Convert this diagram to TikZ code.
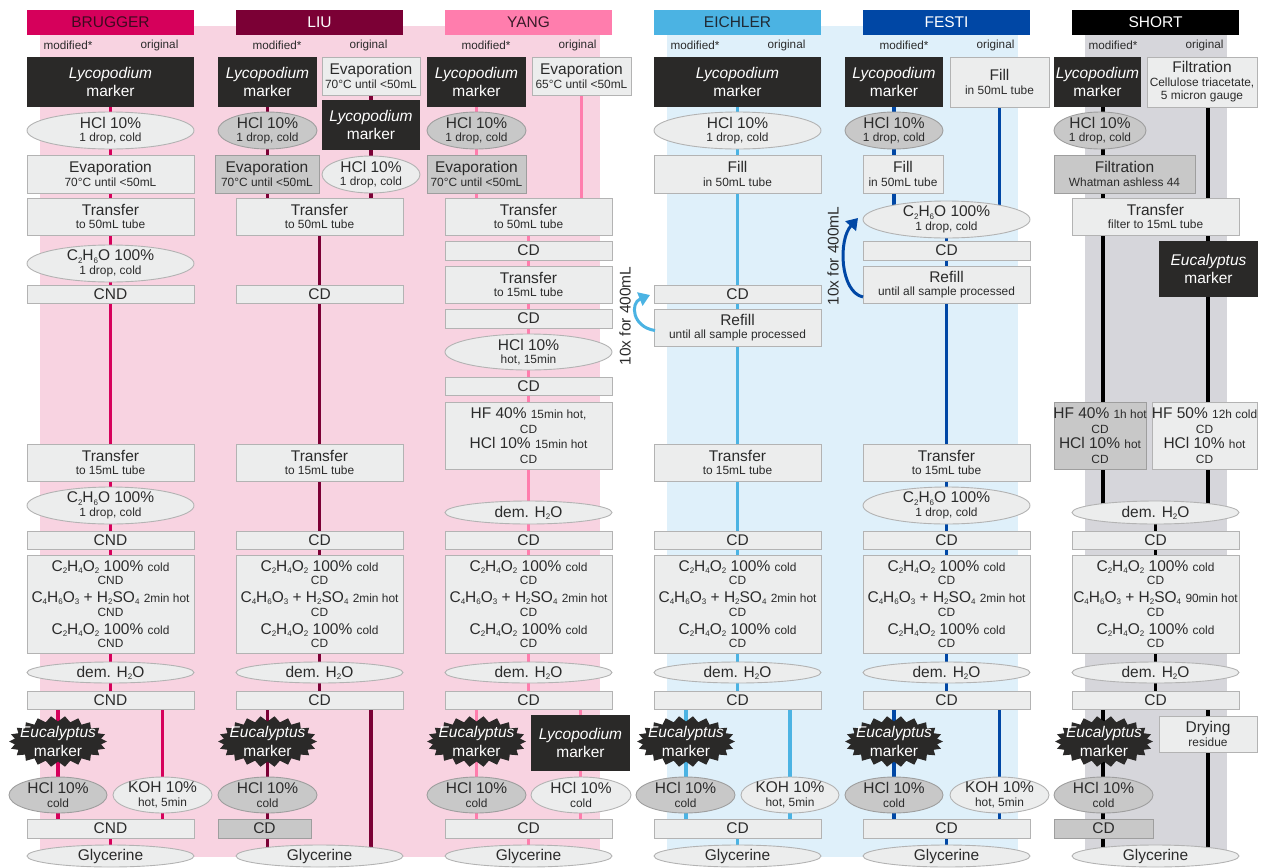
\documentclass[tikz,border=0pt]{standalone}
\usepackage{fontspec}
\setmainfont{Liberation Sans}
\usetikzlibrary{shapes.geometric,arrows.meta,calc}
\definecolor{brc}{HTML}{D6005B}
\definecolor{lic}{HTML}{7B0035}
\definecolor{yac}{HTML}{FF7DAD}
\definecolor{eic}{HTML}{4BB3E3}
\definecolor{fec}{HTML}{0047A5}
\definecolor{shc}{HTML}{000000}
\definecolor{pinkbg}{HTML}{F8D3E1}
\definecolor{bluebg}{HTML}{DFF0FA}
\definecolor{graybg}{HTML}{D6D6DB}
\definecolor{bfill}{HTML}{ECEDED}
\definecolor{bline}{HTML}{B3B3B3}
\definecolor{gfill}{HTML}{C8C8C8}
\definecolor{gline}{HTML}{9E9E9E}
\definecolor{dfill}{HTML}{2A2928}
\definecolor{tcol}{HTML}{2B2B2B}
\definecolor{brt}{HTML}{3E0A1F}
\definecolor{yat}{HTML}{3A1A28}
\definecolor{eit}{HTML}{1F2A35}
\newcommand\fmain{\fontsize{15.5}{13.5}\selectfont}
\newcommand\fsmall{\fontsize{11.9}{13.5}\selectfont}
\newcommand\subs[1]{\raisebox{-2.2pt}{\fontsize{8}{8}\selectfont #1}}
\newcommand\lyco{\textit{Lycopodium}\\[3pt]marker}
\newcommand\euca{\textit{Eucalyptus}\\[3pt]marker}
\newcommand\ethanol{C\subs2H\subs6O 100\%\\{\fsmall 1 drop, cold}}
\newcommand\hcldrop{HCl 10\%\\{\fsmall 1 drop, cold}}
\newcommand\hclcold{HCl 10\%\\{\fsmall cold}}
\newcommand\koh{KOH 10\%\\{\fsmall hot, 5min}}
\newcommand\demw{dem. H\subs2O}
\newcommand\acet[2]{C\subs2H\subs4O\subs2 100\% {\fsmall cold}\\{\fsmall #1}\\[4.5pt]C\subs4H\subs6O\subs3 + H\subs2SO\subs4 {\fsmall #2}\\{\fsmall #1}\\[4.5pt]C\subs2H\subs4O\subs2 100\% {\fsmall cold}\\{\fsmall #1}}
\newcommand\bx[7]{%
  \node[#2, minimum width={#5pt-#3pt}, minimum height={#6pt-#4pt}] (#1) at ({(#3+#5)/2},{(#4+#6)/2}) {};
  \node[txt, #2-t] (#1-t) at (#1) {#7};}
% star-burst marker: name, x1, y1, x2, y2
\newcommand\burst[5]{%
  \node[ellipse, minimum width={#4pt-#2pt}, minimum height={#5pt-#3pt}] (#1) at ({(#2+#4)/2},{(#3+#5)/2}) {};
  \fill[dfill, shift={(#1.center)}] plot[domain=0:43, samples=44, variable=\k]
     ({((#4-#2)/2-5.5*mod(\k,2))*cos(\k*360/44)},{((#5-#3)/2-5.5*mod(\k,2))*sin(\k*360/44)}) -- cycle;
  \node[txt, text=white] (#1-t) at (#1) {\euca};}
\newcommand\hd[5]{%
  \node[rectangle, fill=#3, minimum width=167pt, minimum height=25pt, inner sep=0] (#1) at (#2,22.5) {};
  \node[txt, text=#4] (#1-t) at (#1) {#5};}
\pgfdeclarelayer{bg}
\pgfdeclarelayer{ln}
\pgfsetlayers{bg,ln,main}
\tikzset{
  every node/.style={inner sep=0pt, outer sep=0pt},
  txt/.style={align=center, font=\fmain, text=tcol},
  lab/.style={font=\fontsize{11.7}{12}\selectfont, text=tcol},
  box/.style={rectangle, draw=bline, fill=bfill, line width=0.9pt},
  box-t/.style={},
  gbox/.style={rectangle, draw=gline, fill=gfill, line width=0.9pt},
  gbox-t/.style={},
  dbox/.style={rectangle, fill=dfill},
  dbox-t/.style={text=white},
  ell/.style={ellipse, draw=bline, fill=bfill, line width=0.9pt},
  ell-t/.style={},
  gell/.style={ellipse, draw=gline, fill=gfill, line width=0.9pt},
  gell-t/.style={},
  cl/.style={line width=3.2pt, draw=#1},
  loopar/.style={line width=3pt, draw=#1, -{Triangle[length=11pt,width=14pt]}},
}
\begin{document}
\begin{tikzpicture}[x=1pt,y=-1pt]
\useasboundingbox (0,0) rectangle (1262,868);
\begin{pgfonlayer}{bg}
  \fill[pinkbg] (40,26) rectangle (600,857);
  \fill[bluebg] (667,26) rectangle (1018,857);
  \fill[graybg] (1085,26) rectangle (1227,850);
\end{pgfonlayer}
% ---------------- BRUGGER
\hd{br-h}{110.5}{brc}{brt}{BRUGGER}
\node[lab] (br-lm) at (68,45) {modified*};
\node[lab] (br-lo) at (159.5,45) {original};
\bx{br1}{dbox}{27}{57}{194}{107}{\lyco}
\bx{br2}{ell}{27}{112}{194}{149}{\hcldrop}
\bx{br3}{box}{27}{155}{194}{193}{Evaporation\\{\fsmall 70°C until <50mL}}
\bx{br4}{box}{27}{198}{194}{235}{Transfer\\{\fsmall to 50mL tube}}
\bx{br5}{ell}{27}{245}{194}{282}{\ethanol}
\bx{br6}{box}{27}{285}{194}{303}{CND}
\bx{br7}{box}{27}{444}{194}{481}{Transfer\\{\fsmall to 15mL tube}}
\bx{br8}{ell}{27}{487}{194}{524}{\ethanol}
\bx{br9}{box}{27}{531}{194}{549}{CND}
\bx{br10}{box}{27}{555}{194}{653}{\acet{CND}{2min hot}}
\bx{br11}{ell}{27}{662}{194}{683}{\demw}
\bx{br12}{box}{27}{691}{194}{709}{CND}
\burst{br13}{9}{716}{107}{767}
\bx{br14}{gell}{9}{777}{107}{813}{\hclcold}
\bx{br15}{ell}{113}{777}{212}{813}{\koh}
\bx{br16}{box}{27}{819}{194}{838}{CND}
\bx{br17}{ell}{27}{845}{194}{867}{Glycerine}
\begin{pgfonlayer}{ln}
  \draw[cl=brc] (br1) -- (br12);
  \draw[cl=brc] (br13 |- br12) -- (br13 |- br16);
  \draw[cl=brc] (br15 |- br12) -- (br15 |- br16);
  \draw[cl=brc] (br16) -- (br17);
\end{pgfonlayer}
% ---------------- LIU
\hd{li-h}{319.5}{lic}{white}{LIU}
\node[lab] (li-lm) at (277,45) {modified*};
\node[lab] (li-lo) at (368.5,45) {original};
\bx{li1}{dbox}{218}{57}{317}{107}{\lyco}
\bx{li3}{box}{322}{57}{420}{95}{Evaporation\\{\fsmall 70°C until <50mL}}
\bx{li2}{dbox}{322}{100}{420}{150}{\lyco}
\bx{li4}{gell}{218}{112}{317}{149}{\hcldrop}
\bx{li5}{gbox}{215}{155}{319}{193}{Evaporation\\{\fsmall 70°C until <50mL}}
\bx{li6}{ell}{322}{156}{420}{193}{\hcldrop}
\bx{li7}{box}{236}{198}{403}{235}{Transfer\\{\fsmall to 50mL tube}}
\bx{li8}{box}{236}{285}{403}{303}{CD}
\bx{li9}{box}{236}{444}{403}{481}{Transfer\\{\fsmall to 15mL tube}}
\bx{li10}{box}{236}{531}{403}{549}{CD}
\bx{li11}{box}{236}{555}{403}{653}{\acet{CD}{2min hot}}
\bx{li12}{ell}{236}{662}{403}{683}{\demw}
\bx{li13}{box}{236}{691}{403}{709}{CD}
\burst{li14}{218}{716}{317}{767}
\bx{li15}{gell}{218}{777}{317}{813}{\hclcold}
\bx{li16}{gbox}{218}{819}{311}{838}{CD}
\bx{li17}{ell}{236}{845}{403}{867}{Glycerine}
\begin{pgfonlayer}{ln}
  \draw[cl=lic] (li1) -- (li1 |- li7);
  \draw[cl=lic] (li3) -- (li3 |- li7);
  \draw[cl=lic] (li7) -- (li13);
  \draw[cl=lic] (li14 |- li13) -- (li14 |- li17);
  \draw[cl=lic] (li2 |- li13) -- (li2 |- li17);
\end{pgfonlayer}
% ---------------- YANG
\hd{ya-h}{528.5}{yac}{yat}{YANG}
\node[lab] (ya-lm) at (486,45) {modified*};
\node[lab] (ya-lo) at (577.5,45) {original};
\bx{ya1}{dbox}{427}{57}{526}{107}{\lyco}
\bx{ya2}{box}{532}{57}{631}{95}{Evaporation\\{\fsmall 65°C until <50mL}}
\bx{ya3}{gell}{427}{112}{526}{149}{\hcldrop}
\bx{ya4}{gbox}{427}{155}{526}{193}{Evaporation\\{\fsmall 70°C until <50mL}}
\bx{ya5}{box}{445}{198}{612}{235}{Transfer\\{\fsmall to 50mL tube}}
\bx{ya6}{box}{445}{241}{612}{260}{CD}
\bx{ya7}{box}{445}{266}{612}{303}{Transfer\\{\fsmall to 15mL tube}}
\bx{ya8}{box}{445}{309}{612}{328}{CD}
\bx{ya9}{ell}{445}{334}{612}{370}{HCl 10\%\\{\fsmall hot, 15min}}
\bx{ya10}{box}{445}{377}{612}{395}{CD}
\bx{ya11}{box}{445}{402}{612}{469}{HF 40\% {\fsmall 15min hot,}\\[1.5pt]{\fsmall CD}\\[2pt]HCl 10\% {\fsmall 15min hot}\\[1pt]{\fsmall CD}}
\bx{ya12}{ell}{445}{501}{612}{524}{\demw}
\bx{ya13}{box}{445}{531}{612}{549}{CD}
\bx{ya14}{box}{445}{555}{612}{653}{\acet{CD}{2min hot}}
\bx{ya15}{ell}{445}{662}{612}{683}{\demw}
\bx{ya16}{box}{445}{691}{612}{709}{CD}
\burst{ya17}{427}{716}{526}{767}
\bx{ya18}{dbox}{531}{715}{630}{771}{\lyco}
\bx{ya19}{gell}{427}{777}{526}{813}{\hclcold}
\bx{ya20}{ell}{531}{777}{631}{813}{\hclcold}
\bx{ya21}{box}{445}{819}{612}{838}{CD}
\bx{ya22}{ell}{445}{845}{612}{867}{Glycerine}
\begin{pgfonlayer}{ln}
  \draw[cl=yac] (ya1) -- (ya1 |- ya5);
  \draw[cl=yac] (ya2) -- (ya2 |- ya5);
  \draw[cl=yac] (ya5) -- (ya16);
  \draw[cl=yac] (ya17 |- ya16) -- (ya17 |- ya21);
  \draw[cl=yac] (ya18 |- ya16) -- (ya18 |- ya21);
  \draw[cl=yac] (ya21) -- (ya22);
\end{pgfonlayer}
% ---------------- EICHLER
\hd{ei-h}{737.5}{eic}{eit}{EICHLER}
\node[lab] (ei-lm) at (695,45) {modified*};
\node[lab] (ei-lo) at (786.5,45) {original};
\bx{ei1}{dbox}{654}{57}{821}{107}{\lyco}
\bx{ei2}{ell}{654}{112}{821}{149}{\hcldrop}
\bx{ei3}{box}{654}{155}{821}{193}{Fill\\{\fsmall in 50mL tube}}
\bx{ei4}{box}{654}{285}{821}{303}{CD}
\bx{ei5}{box}{654}{309}{821}{346}{Refill\\{\fsmall until all sample processed}}
\bx{ei6}{box}{654}{444}{821}{481}{Transfer\\{\fsmall to 15mL tube}}
\bx{ei7}{box}{654}{531}{821}{549}{CD}
\bx{ei8}{box}{654}{555}{821}{653}{\acet{CD}{2min hot}}
\bx{ei9}{ell}{654}{662}{821}{683}{\demw}
\bx{ei10}{box}{654}{691}{821}{709}{CD}
\burst{ei11}{637}{716}{735}{767}
\bx{ei12}{gell}{636}{777}{735}{813}{\hclcold}
\bx{ei13}{ell}{741}{777}{839}{813}{\koh}
\bx{ei14}{box}{654}{819}{821}{838}{CD}
\bx{ei15}{ell}{654}{845}{821}{867}{Glycerine}
\node[txt, rotate=90] (ei-rep) at (625,316) {10x for 400mL};
\coordinate (ei-tip) at ($(ei4.west)+(-4,1)$);
\begin{pgfonlayer}{ln}
  \draw[cl=eic] (ei1) -- (ei10);
  \draw[cl=eic] (ei11 |- ei10) -- (ei11 |- ei14);
  \draw[cl=eic] (ei13 |- ei10) -- (ei13 |- ei14);
  \draw[cl=eic] (ei14) -- (ei15);
\end{pgfonlayer}
\draw[loopar=eic] ($(ei5.west)+(1,3)$) .. controls (632,327) and (630,303) .. (ei-tip);
% ---------------- FESTI
\hd{fe-h}{946.5}{fec}{white}{FESTI}
\node[lab] (fe-lm) at (904,45) {modified*};
\node[lab] (fe-lo) at (995.5,45) {original};
\bx{fe1}{dbox}{845}{57}{943}{107}{\lyco}
\bx{fe2}{box}{950}{57}{1049}{107}{Fill\\{\fsmall in 50mL tube}}
\bx{fe3}{gell}{845}{112}{943}{149}{\hcldrop}
\bx{fe4}{box}{863}{155}{943}{193}{Fill\\{\fsmall in 50mL tube}}
\bx{fe5}{ell}{863}{201}{1030}{238}{\ethanol}
\bx{fe6}{box}{863}{241}{1030}{260}{CD}
\bx{fe7}{box}{863}{266}{1030}{303}{Refill\\{\fsmall until all sample processed}}
\bx{fe8}{box}{863}{444}{1030}{481}{Transfer\\{\fsmall to 15mL tube}}
\bx{fe9}{ell}{863}{487}{1030}{524}{\ethanol}
\bx{fe10}{box}{863}{531}{1030}{549}{CD}
\bx{fe11}{box}{863}{555}{1030}{653}{\acet{CD}{2min hot}}
\bx{fe12}{ell}{863}{662}{1030}{683}{\demw}
\bx{fe13}{box}{863}{691}{1030}{709}{CD}
\burst{fe14}{845}{716}{943}{767}
\bx{fe15}{gell}{845}{777}{943}{813}{\hclcold}
\bx{fe16}{ell}{950}{777}{1049}{813}{\koh}
\bx{fe17}{box}{863}{819}{1030}{838}{CD}
\bx{fe18}{ell}{863}{845}{1030}{867}{Glycerine}
\node[txt, rotate=90] (fe-rep) at (833,256) {10x for 400mL};
\coordinate (fe-tip) at ($(fe5.west)+(-5,-1.5)$);
\begin{pgfonlayer}{ln}
  \draw[cl=fec] (fe1) -- (fe1 |- fe5);
  \draw[cl=fec] (fe2) -- (fe2 |- fe5);
  \draw[cl=fec] (fe5) -- (fe13);
  \draw[cl=fec] (fe14 |- fe13) -- (fe14 |- fe17);
  \draw[cl=fec] (fe16 |- fe13) -- (fe16 |- fe17);
  \draw[cl=fec] (fe17) -- (fe18);
\end{pgfonlayer}
\draw[loopar=fec] ($(fe7.west)+(0,12.5)$) .. controls (840,292) and (838,240) .. (fe-tip);
% ---------------- SHORT
\hd{sh-h}{1155.5}{shc}{white}{SHORT}
\node[lab] (sh-lm) at (1113,45) {modified*};
\node[lab] (sh-lo) at (1204.5,45) {original};
\coordinate (shm) at (1103,0);
\coordinate (sho) at (1208,0);
\bx{sh1}{dbox}{1054}{57}{1141}{107}{\lyco}
\bx{sh2}{box}{1147}{57}{1257}{107}{Filtration\\{\fsmall Cellulose triacetate,}\\{\fsmall 5 micron gauge}}
\bx{sh3}{gell}{1054}{112}{1146}{149}{\hcldrop}
\bx{sh4}{gbox}{1054}{155}{1195}{193}{Filtration\\{\fsmall Whatman ashless 44}}
\bx{sh5}{box}{1072}{198}{1239}{235}{Transfer\\{\fsmall filter to 15mL tube}}
\bx{sh6}{dbox}{1159}{241}{1258}{297}{\euca}
\bx{sh7}{gbox}{1054}{402}{1146}{469}{HF 40\% {\fsmall 1h hot}\\[1.5pt]{\fsmall CD}\\[2pt]HCl 10\% {\fsmall hot}\\[1pt]{\fsmall CD}}
\bx{sh8}{box}{1152}{402}{1257}{469}{HF 50\% {\fsmall 12h cold}\\[1.5pt]{\fsmall CD}\\[2pt]HCl 10\% {\fsmall hot}\\[1pt]{\fsmall CD}}
\bx{sh9}{ell}{1072}{501}{1239}{524}{\demw}
\bx{sh10}{box}{1072}{531}{1239}{549}{CD}
\bx{sh11}{box}{1072}{555}{1239}{653}{\acet{CD}{90min hot}}
\bx{sh12}{ell}{1072}{662}{1239}{683}{\demw}
\bx{sh13}{box}{1072}{691}{1239}{709}{CD}
\burst{sh14}{1055}{716}{1153}{767}
\bx{sh15}{box}{1159}{716}{1257}{752}{Drying\\{\fsmall residue}}
\bx{sh16}{gell}{1054}{777}{1153}{813}{\hclcold}
\bx{sh17}{gbox}{1054}{819}{1153}{838}{CD}
\bx{sh18}{ell}{1072}{845}{1239}{867}{Glycerine}
\begin{pgfonlayer}{ln}
  \draw[cl=shc] (sh1 -| shm) -- (sh9 -| shm);
  \draw[cl=shc] (sh2 -| sho) -- (sh9 -| sho);
  \draw[cl=shc] (sh9) -- (sh13);
  \draw[cl=shc] (sh13 -| shm) -- (sh18 -| shm);
  \draw[cl=shc] (sh13 -| sho) -- (sh18 -| sho);
\end{pgfonlayer}
\end{tikzpicture}
\end{document}
